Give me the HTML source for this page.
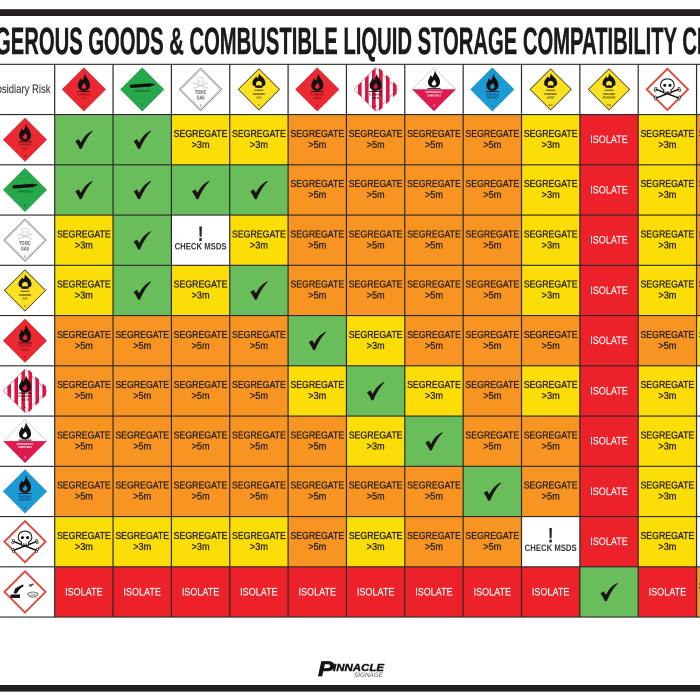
<!DOCTYPE html>
<html lang="en">
<head>
<meta charset="utf-8">
<title>Dangerous Goods &amp; Combustible Liquid Storage Compatibility Chart</title>
<style>
html,body{margin:0;padding:0;background:#fff;width:700px;height:700px;overflow:hidden}
svg{display:block;font-family:"Liberation Sans",Arial,sans-serif;filter:blur(0.3px)}
</style>
</head>
<body>
<svg id="chart" xmlns="http://www.w3.org/2000/svg" width="700" height="700" viewBox="0 0 700 700">
  <rect x="0" y="0" width="700" height="700" fill="#fff"/>
  <rect x="0" y="9.2" width="700" height="6.8" fill="#231f20"/>
  <rect x="0" y="685" width="700" height="6.6" fill="#231f20"/>
  <text x="-48.8" y="54" font-size="37.7" font-weight="700" fill="#1d1a1b" stroke="#1d1a1b" stroke-width="0.45" textLength="802" lengthAdjust="spacingAndGlyphs">DANGEROUS GOODS &amp; COMBUSTIBLE LIQUID STORAGE COMPATIBILITY CHART</text>
  <g id="grid-layer"></g>
  <g>
    <text x="318" y="676" font-size="21" font-weight="700" font-style="italic" fill="#151515" stroke="#151515" stroke-width="0.7" textLength="16" lengthAdjust="spacingAndGlyphs">P</text>
    <text x="333" y="671" font-size="10" font-weight="700" font-style="italic" fill="#151515" stroke="#151515" stroke-width="0.4" textLength="51" lengthAdjust="spacingAndGlyphs">INNACLE</text>
    <text x="354" y="677" font-size="6.4" font-style="italic" fill="#555" textLength="29" lengthAdjust="spacingAndGlyphs">SIGNAGE</text>
  </g>
</svg>
<script>
// ---- chart data ----
const columnHazards = ['flammable-gas','compressed-gas','toxic-gas','oxidising-gas','flammable-liquid','flammable-solid','spontaneously-combustible','dangerous-when-wet','oxidising-agent','organic-peroxide','toxic-substance','corrosive'];
const rowHazards = ['flammable-gas','compressed-gas','toxic-gas','oxidising-gas','flammable-liquid','flammable-solid','spontaneously-combustible','dangerous-when-wet','toxic-substance','corrosive'];
const rowFlammableGas   = ['ok','ok','s3','s3','s5','s5','s5','s5','s3','iso','s3','s5'];
const rowCompressedGas  = ['ok','ok','ok','ok','s5','s5','s5','s5','s3','iso','s3','s5'];
const rowToxicGas       = ['s3','ok','msds','s3','s5','s5','s5','s5','s3','iso','s3','s5'];
const rowOxidisingGas   = ['s3','ok','s3','ok','s5','s5','s5','s5','s3','iso','s3','s5'];
const rowFlamLiquid     = ['s5','s5','s5','s5','ok','s3','s5','s5','s5','iso','s5','s3'];
const rowFlamSolid      = ['s5','s5','s5','s5','s3','ok','s3','s5','s3','iso','s3','none'];
const rowSpontaneous    = ['s5','s5','s5','s5','s5','s3','ok','s5','s5','iso','s3','none'];
const rowWhenWet        = ['s5','s5','s5','s5','s5','s5','s5','ok','s5','iso','s3','none'];
const rowToxicSubstance = ['s3','s3','s3','s3','s5','s3','s5','s5','msds','iso','s3','none'];
const rowCorrosive      = ['iso','iso','iso','iso','iso','iso','iso','iso','iso','ok','iso','s5'];
const matrixRows = [rowFlammableGas,rowCompressedGas,rowToxicGas,rowOxidisingGas,rowFlamLiquid,rowFlamSolid,rowSpontaneous,rowWhenWet,rowToxicSubstance,rowCorrosive];
const cornerLabel = 'Subsidiary Risk';
const segregateWord = 'SEGREGATE';
const isolateWord = 'ISOLATE';
const checkWord = 'CHECK MSDS';
const distanceLabels = {s3:'>3m', s5:'>5m'};

// ---- axis functions ----
const gridLeft = 54.7, colStep = 58.35, gridTop = 64.3, rowStep = 50.25;
function xCol(c){ return gridLeft + c * colStep; }
function yRow(r){ return gridTop + r * rowStep; }

const NS = 'http://www.w3.org/2000/svg';
const root = document.getElementById('grid-layer');
const cellFills = {ok:'#6abd5b', s3:'#fbdd07', s5:'#f89522', iso:'#ed2129', msds:'#ffffff', none:'#ffffff'};

function mk(tag, attrs, parent){
  const el = document.createElementNS(NS, tag);
  for (const k in attrs) el.setAttribute(k, attrs[k]);
  parent.appendChild(el);
  return el;
}
function part(tag, attrs, parent, name){
  const el = mk(tag, attrs, parent);
  
  
  return el;
}
function tinyLabel(g, str, y, size, fill, len){
  const t = part('text', {x:-len/2, y:y, 'font-size':size, 'font-weight':700, fill:fill, textLength:len, lengthAdjust:'spacingAndGlyphs'}, g, 'icon-label');
  t.textContent = str;
}
function diamond(g, fill, stroke, sw, hw){
  part('polygon', {points:`0,${-hw} ${hw},0 0,${hw} ${-hw},0`, fill:fill, stroke:stroke, 'stroke-width':sw, 'stroke-linejoin':'miter'}, g, 'icon-diamond');
}
function flame(g, oy, inner){
  const f = part('g', {transform:`translate(0,${oy})`}, g, 'icon-flame');
  mk('path', {d:'M1,-16 C2,-11 6.5,-9 6,-3.6 C5.8,-0.4 3,1.4 0,1.4 C-3.2,1.4 -6,-0.6 -6,-4 C-6,-7 -4,-8 -3.6,-11 C-2.2,-9.8 -1.6,-9.4 -1.2,-9 C-0.6,-11 0.6,-13 1,-16 Z', fill:'#111'}, f);
  mk('path', {d:'M0.4,-6.5 C1.2,-5 2.4,-4 2.2,-2.4 C2,-1.2 1,-0.6 0,-0.6 C-1.2,-0.6 -2.2,-1.2 -2.2,-2.6 C-2.2,-3.8 -0.8,-4.6 0.4,-6.5 Z', fill:inner}, f);
  mk('rect', {x:-6.5, y:1.7, width:13, height:0.9, fill:'#111'}, f);
}
function oxidiserFlame(g, inner){
  const f = part('g', {}, g, 'icon-flame-over-circle');
  mk('path', {d:'M0,-16 C2,-12.5 5.6,-12 6.4,-7 C6.8,-5 6,-4 5,-3.4 L-5,-3.4 C-6,-4 -6.8,-5 -6.4,-7 C-6,-10.6 -3.5,-10.6 -3,-13 C-2,-12 -1.2,-11.6 -1,-11 C-0.6,-12.6 -0.2,-14.4 0,-16 Z', fill:'#111'}, f);
  mk('circle', {cx:0, cy:-5.6, r:3, fill:inner}, f);
  mk('path', {d:'M-4,-2.6 C-4,-4.6 4,-4.6 4,-2.6 C4,-1.2 -4,-1.2 -4,-2.6 Z', fill:'#111'}, f);
  mk('rect', {x:-4.5, y:0.4, width:9, height:0.7, fill:'#111'}, f);
}
function skull(g, col, oy){
  const s = part('g', {transform:`translate(0,${oy})`}, g, 'icon-skull');
  mk('path', {d:'M-11,-1 L11,7.5 M11,-1 L-11,7.5', stroke:col, 'stroke-width':1.5, fill:'none'}, s);
  [[-11.6,-2.2],[-12.2,-0.2],[11.6,-2.2],[12.2,-0.2],[-11.6,8.6],[-12.2,6.6],[11.6,8.6],[12.2,6.6]].forEach(function(p){
    mk('circle', {cx:p[0], cy:p[1], r:1.1, fill:'#fff', stroke:col, 'stroke-width':0.6}, s);
  });
  mk('path', {d:'M-6.8,-5 C-6.8,-9.8 -3.2,-11.6 0,-11.6 C3.2,-11.6 6.8,-9.8 6.8,-5 C6.8,-2.4 5,-1.4 3.6,-0.6 L3.6,2.6 L-3.6,2.6 L-3.6,-0.6 C-5,-1.4 -6.8,-2.4 -6.8,-5 Z', fill:'#fff', stroke:col, 'stroke-width':1}, s);
  mk('circle', {cx:-2.6, cy:-5, r:1.5, fill:col}, s);
  mk('circle', {cx:2.6, cy:-5, r:1.5, fill:col}, s);
  mk('path', {d:'M-1.4,2.4 L-1.4,0.6 M0,2.4 L0,0.6 M1.4,2.4 L1.4,0.6', stroke:col, 'stroke-width':0.5}, s);
}
function drawIcon(kind, cx, cy, name){
  const g = mk('g', {transform:`translate(${cx},${cy})`}, root);
  
  
  if (kind === 'flammable-gas' || kind === 'flammable-liquid') {
    diamond(g, '#ec2830', '#b81a22', 0.4, 21.8);
    flame(g, 0, '#ec2830');
    tinyLabel(g, 'FLAMMABLE', 6, 2.9, '#6e1115', 14);
    tinyLabel(g, kind === 'flammable-gas' ? 'GAS' : 'LIQUID', 9.6, 2.9, '#6e1115', kind === 'flammable-gas' ? 5 : 8);
    tinyLabel(g, kind === 'flammable-gas' ? '2' : '3', 17.5, 3, '#6e1115', 1.8);
  } else if (kind === 'compressed-gas') {
    diamond(g, '#27a84a', '#1b8b3a', 0.4, 21.8);
    const c = part('g', {transform:'rotate(-4 0 -4)'}, g, 'icon-cylinder');
    mk('rect', {x:-12.5, y:-5.6, width:22, height:3.4, rx:1.7, fill:'#111'}, c);
    mk('rect', {x:9, y:-5, width:3.2, height:1.8, fill:'#111'}, c);
    tinyLabel(g, 'COMPRESSED GAS', 2.6, 2.3, '#0e4f20', 16);
    tinyLabel(g, '2', 16.5, 3.2, '#0e4f20', 1.9);
  } else if (kind === 'toxic-gas') {
    diamond(g, '#fff', '#8a8a8a', 0.9, 21.2);
    part('polygon', {points:'0,-19.4 19.4,0 0,19.4 -19.4,0', fill:'none', stroke:'#555', 'stroke-width':0.35}, g, 'icon-inner-border');
    const s = part('g', {transform:'scale(0.55) translate(0,-10)', opacity:0.5}, g, 'icon-skull-wrap');
    skull(s, '#888', 0);
    tinyLabel(g, 'TOXIC', 4.6, 5.4, '#555', 11.5);
    tinyLabel(g, 'GAS', 10.2, 5.4, '#555', 8);
    tinyLabel(g, '2', 17.2, 2.8, '#444', 1.7);
  } else if (kind === 'oxidising-gas' || kind === 'oxidising-agent' || kind === 'organic-peroxide') {
    diamond(g, '#fbe121', '#2b2b10', 0.7, 20.6);
    oxidiserFlame(g, '#fbe121');
    const lab = kind === 'oxidising-gas' ? ['OXIDISING','GAS','2'] : kind === 'oxidising-agent' ? ['OXIDISING','AGENT','5.1'] : ['ORGANIC','PEROXIDE','5.2'];
    tinyLabel(g, lab[0], 5.6, 3, '#2b2a08', 12.5);
    tinyLabel(g, lab[1], 9.2, 3, '#2b2a08', lab[1].length * 1.6);
    tinyLabel(g, lab[2], 16.5, 3, '#2b2a08', lab[2].length * 1.3);
  } else if (kind === 'flammable-solid') {
    diamond(g, '#fff', '#c9143e', 0.5, 21.8);
    [-17.6,-10.6,-3.6,3.4,10.4,17.4].forEach(function(x){
      const w = 3.6, e1 = 21.6 - Math.abs(x), e2 = 21.6 - Math.abs(x + w * (x < 0 ? 1 : -1));
      const left = x < 0 ? e1 : e2, right = x < 0 ? e2 : e1;
      part('polygon', {points:`${x},${-left} ${x+w},${-right} ${x+w},${right} ${x},${left}`, fill:'#dc143f'}, g, 'icon-stripe');
    });
    flame(g, 0, '#dc143f');
    tinyLabel(g, 'FLAMMABLE', 6, 2.7, '#2a0a10', 13);
    tinyLabel(g, 'SOLID', 9.4, 2.7, '#2a0a10', 7);
    tinyLabel(g, '4', 17.5, 3, '#2a0a10', 1.8);
  } else if (kind === 'spontaneously-combustible') {
    part('polygon', {points:'0,-21.8 21.8,0 -21.8,0', fill:'#fff', stroke:'#999', 'stroke-width':0.6, 'stroke-dasharray':'1 0.8'}, g, 'icon-white-half');
    part('polygon', {points:'-21.8,0 21.8,0 0,21.8', fill:'#de1b4e'}, g, 'icon-crimson-half');
    flame(g, -3.2, '#fff');
    tinyLabel(g, 'SPONTANEOUSLY', 3.6, 2.6, '#fff', 17);
    tinyLabel(g, 'COMBUSTIBLE', 7, 2.6, '#fff', 14);
    tinyLabel(g, '4', 17.2, 3, '#fff', 1.8);
  } else if (kind === 'dangerous-when-wet') {
    diamond(g, '#1c9ad6', '#137cb0', 0.4, 21.8);
    flame(g, 0, '#1c9ad6');
    tinyLabel(g, 'DANGEROUS', 6, 2.6, '#0a3550', 13);
    tinyLabel(g, 'WHEN WET', 9.2, 2.6, '#0a3550', 11.5);
    tinyLabel(g, '4', 17.5, 3, '#0a3550', 1.8);
  } else if (kind === 'toxic-substance') {
    diamond(g, '#fff', '#dd4a3c', 1.9, 20.6);
    skull(g, '#111', 1);
  } else if (kind === 'corrosive') {
    diamond(g, '#fff', '#dd4a3c', 1.9, 20.6);
    const a = part('g', {}, g, 'icon-corrosive-symbol');
    mk('path', {d:'M-14.5,6 L-14.5,2.6 L-5,2.6 L-5,6 Z', fill:'#111'}, a);
    mk('path', {d:'M-11.5,1.6 L-9.8,-3.4 L-6,-5.6 L-2,-7.4 L-1.2,-6 L-5,-3.2 L-8.6,1.6 Z', fill:'#111'}, a);
    mk('path', {d:'M3.6,-7.2 L8.4,-8.6 L9,-7.4 L5,-4.8 Z', fill:'#555'}, a);
    mk('path', {d:'M2.6,2 C5,-0.6 10.8,-0.6 13,2 C11.4,6 5,6.6 2.6,2 Z', fill:'none', stroke:'#555', 'stroke-width':0.8}, a);
    mk('path', {d:'M4.4,2.6 C6.6,1.2 9.6,3 11.4,2 M5.2,4.2 C7,3.4 8.8,4.4 10.4,3.6', fill:'none', stroke:'#555', 'stroke-width':0.5}, a);
  }
  return g;
}
function cellText(g, str, cx, baseline, size, fill, len, sw){
  const t = mk('text', {x:cx - len/2, y:baseline, 'font-size':size, fill:fill, stroke:fill, 'stroke-width':sw, textLength:len, lengthAdjust:'spacingAndGlyphs'}, g);
  t.textContent = str;
  return t;
}

// ---- matrix cells ----
matrixRows.forEach(function(values, r){
  values.forEach(function(code, c){
    const x0 = xCol(c), x1 = xCol(c + 1), y0 = yRow(r + 1), y1 = yRow(r + 2);
    const cx = (x0 + x1) / 2, cy = (y0 + y1) / 2;
    const cell = mk('g', {}, root);
    
    
    mk('rect', {x:x0, y:y0, width:x1 - x0, height:y1 - y0, fill:cellFills[code]}, cell);
    if (code === 's3' || code === 's5') {
      const a = cellText(cell, segregateWord, cx, y0 + 22.2, 10, '#2b2216', 53.8, 0.32);
      
      
      const b = cellText(cell, distanceLabels[code], cx, y0 + 33.4, 10, '#2b2216', 18, 0.3);
      
      
    } else if (code === 'iso') {
      const a = cellText(cell, isolateWord, cx, y0 + 28.6, 10.6, '#ffffff', 37.5, 0.15);
      
      
    } else if (code === 'ok') {
      const p = mk('path', {transform:`translate(${cx},${cy})`, d:'M-8.6,1.4 L-5.2,-0.6 L-3,3 C-0.4,-2.6 3.4,-6.6 8.4,-9 L8.8,-8.4 C4,-3.6 0.4,3 -2.2,9.2 L-4.2,9.2 C-5.6,6 -7,3.6 -8.6,1.4 Z', fill:'#16160f'}, cell);
      
      
    } else if (code === 'msds') {
      const p = mk('text', {x:cx - 3, y:y0 + 25.8, 'font-size':21, 'font-weight':700, fill:'#2a2a2a', textLength:6, lengthAdjust:'spacingAndGlyphs'}, cell);
      p.textContent = '!';
      
      
      const a = mk('text', {x:cx - 26, y:y0 + 34.4, 'font-size':8.8, 'font-weight':700, fill:'#333', textLength:52, lengthAdjust:'spacingAndGlyphs'}, cell);
      a.textContent = checkWord;
      
      
    }
  });
});

// ---- grid lines ----
for (let c = 0; c <= 11; c++) {
  const ln = mk('line', {x1:xCol(c), x2:xCol(c), y1:yRow(0), y2:yRow(11), stroke:'#2a2a28', 'stroke-width':1.2}, root);
  
  
}
for (let r = 0; r <= 11; r++) {
  const ln = mk('line', {x1:0, x2:700, y1:yRow(r), y2:yRow(r), stroke:'#2a2a28', 'stroke-width':1.2}, root);
  
  
}

// ---- axis labels (hazard icons) ----
columnHazards.forEach(function(kind, c){
  drawIcon(kind, (xCol(c) + xCol(c + 1)) / 2, (yRow(0) + yRow(1)) / 2, 'column-header-' + kind);
});
rowHazards.forEach(function(kind, r){
  drawIcon(kind, 25, (yRow(r + 1) + yRow(r + 2)) / 2, 'row-header-' + kind);
});
const corner = mk('text', {x:-15, y:93, 'font-size':12, fill:'#3a3a3a', stroke:'#3a3a3a', 'stroke-width':0.15, textLength:65.5, lengthAdjust:'spacingAndGlyphs'}, root);
corner.textContent = cornerLabel;


</script>
</body>
</html>
